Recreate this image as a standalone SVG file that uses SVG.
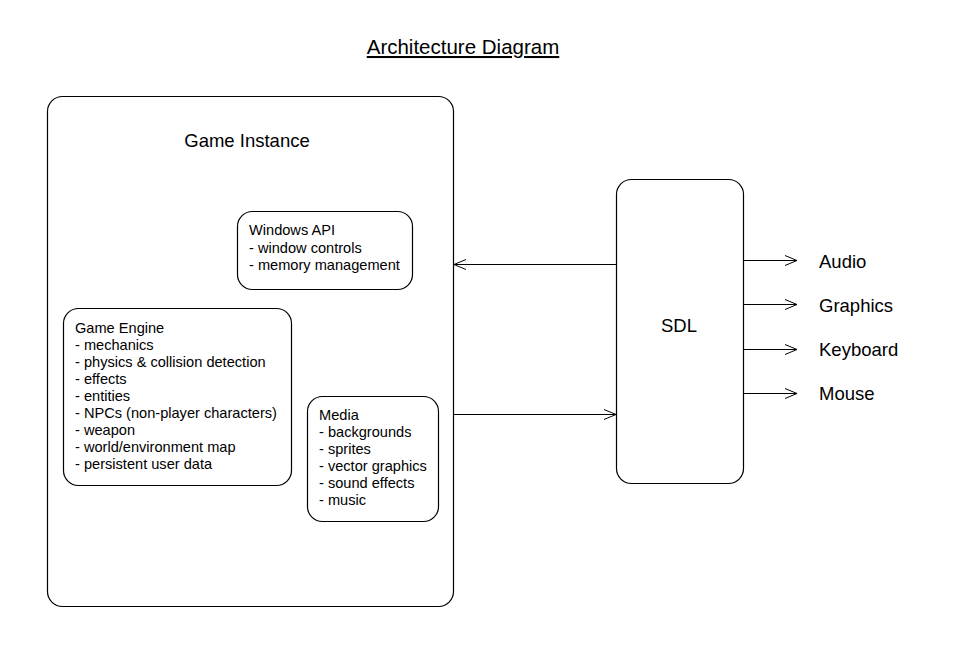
<svg xmlns="http://www.w3.org/2000/svg" width="960" height="650" viewBox="0 0 960 650">
<style>
.box{fill:#fff;stroke:#000;stroke-width:1.2}
.sm{font-family:"Liberation Sans",Arial,sans-serif;font-size:14.6px;fill:#000}
.lg{font-family:"Liberation Sans",Arial,sans-serif;font-size:18.5px;fill:#000}
.ln{fill:none;stroke:#000;stroke-width:1.2}
</style>
<defs>
<marker id="arr" markerWidth="14" markerHeight="12" refX="12" refY="6" orient="auto" markerUnits="userSpaceOnUse">
<path d="M0,1 L12,6 L0,11" fill="none" stroke="#000" stroke-width="1"/>
</marker>
</defs>
<rect width="960" height="650" fill="#fff"/>
<g id="title">
<text x="463" y="54" text-anchor="middle" font-family="Liberation Sans, Arial, sans-serif" font-size="20.5" text-decoration="underline">Architecture Diagram</text>
</g>
<g id="game-instance">
<rect class="box" x="47.5" y="96.5" width="406" height="510" rx="15"/>
<text class="lg" x="247" y="147" text-anchor="middle">Game Instance</text>
</g>
<g id="windows-api">
<rect class="box" x="237.5" y="211.5" width="175" height="78" rx="15"/>
<text class="sm" x="249" y="235">Windows API</text>
<text class="sm" x="249" y="252.5">- window controls</text>
<text class="sm" x="249" y="269.5">- memory management</text>
</g>
<g id="game-engine">
<rect class="box" x="63.5" y="308.5" width="228" height="177" rx="15"/>
<text class="sm" x="75" y="333">Game Engine</text>
<text class="sm" x="75" y="350">- mechanics</text>
<text class="sm" x="75" y="367">- physics &amp; collision detection</text>
<text class="sm" x="75" y="384">- effects</text>
<text class="sm" x="75" y="401">- entities</text>
<text class="sm" x="75" y="418">- NPCs (non-player characters)</text>
<text class="sm" x="75" y="435">- weapon</text>
<text class="sm" x="75" y="452">- world/environment map</text>
<text class="sm" x="75" y="469">- persistent user data</text>
</g>
<g id="media">
<rect class="box" x="307.5" y="396.5" width="131" height="125" rx="15"/>
<text class="sm" x="319" y="420">Media</text>
<text class="sm" x="319" y="437">- backgrounds</text>
<text class="sm" x="319" y="454">- sprites</text>
<text class="sm" x="319" y="471">- vector graphics</text>
<text class="sm" x="319" y="488">- sound effects</text>
<text class="sm" x="319" y="505">- music</text>
</g>
<g id="sdl">
<rect class="box" x="616.5" y="179.5" width="127" height="304" rx="15"/>
<text class="lg" x="679" y="331.5" text-anchor="middle">SDL</text>
</g>
<g id="outputs">
<text class="lg" x="819" y="268">Audio</text>
<text class="lg" x="819" y="312">Graphics</text>
<text class="lg" x="819" y="356">Keyboard</text>
<text class="lg" x="819" y="400">Mouse</text>
</g>
<g id="connectors">
<line class="ln" x1="616" y1="264.5" x2="454" y2="264.5" marker-end="url(#arr)"/>
<line class="ln" x1="453" y1="414.5" x2="616" y2="414.5" marker-end="url(#arr)"/>
<line class="ln" x1="743" y1="260.5" x2="797" y2="260.5" marker-end="url(#arr)"/>
<line class="ln" x1="743" y1="304.5" x2="797" y2="304.5" marker-end="url(#arr)"/>
<line class="ln" x1="743" y1="349.5" x2="797" y2="349.5" marker-end="url(#arr)"/>
<line class="ln" x1="743" y1="393.5" x2="797" y2="393.5" marker-end="url(#arr)"/>
</g>
</svg>
